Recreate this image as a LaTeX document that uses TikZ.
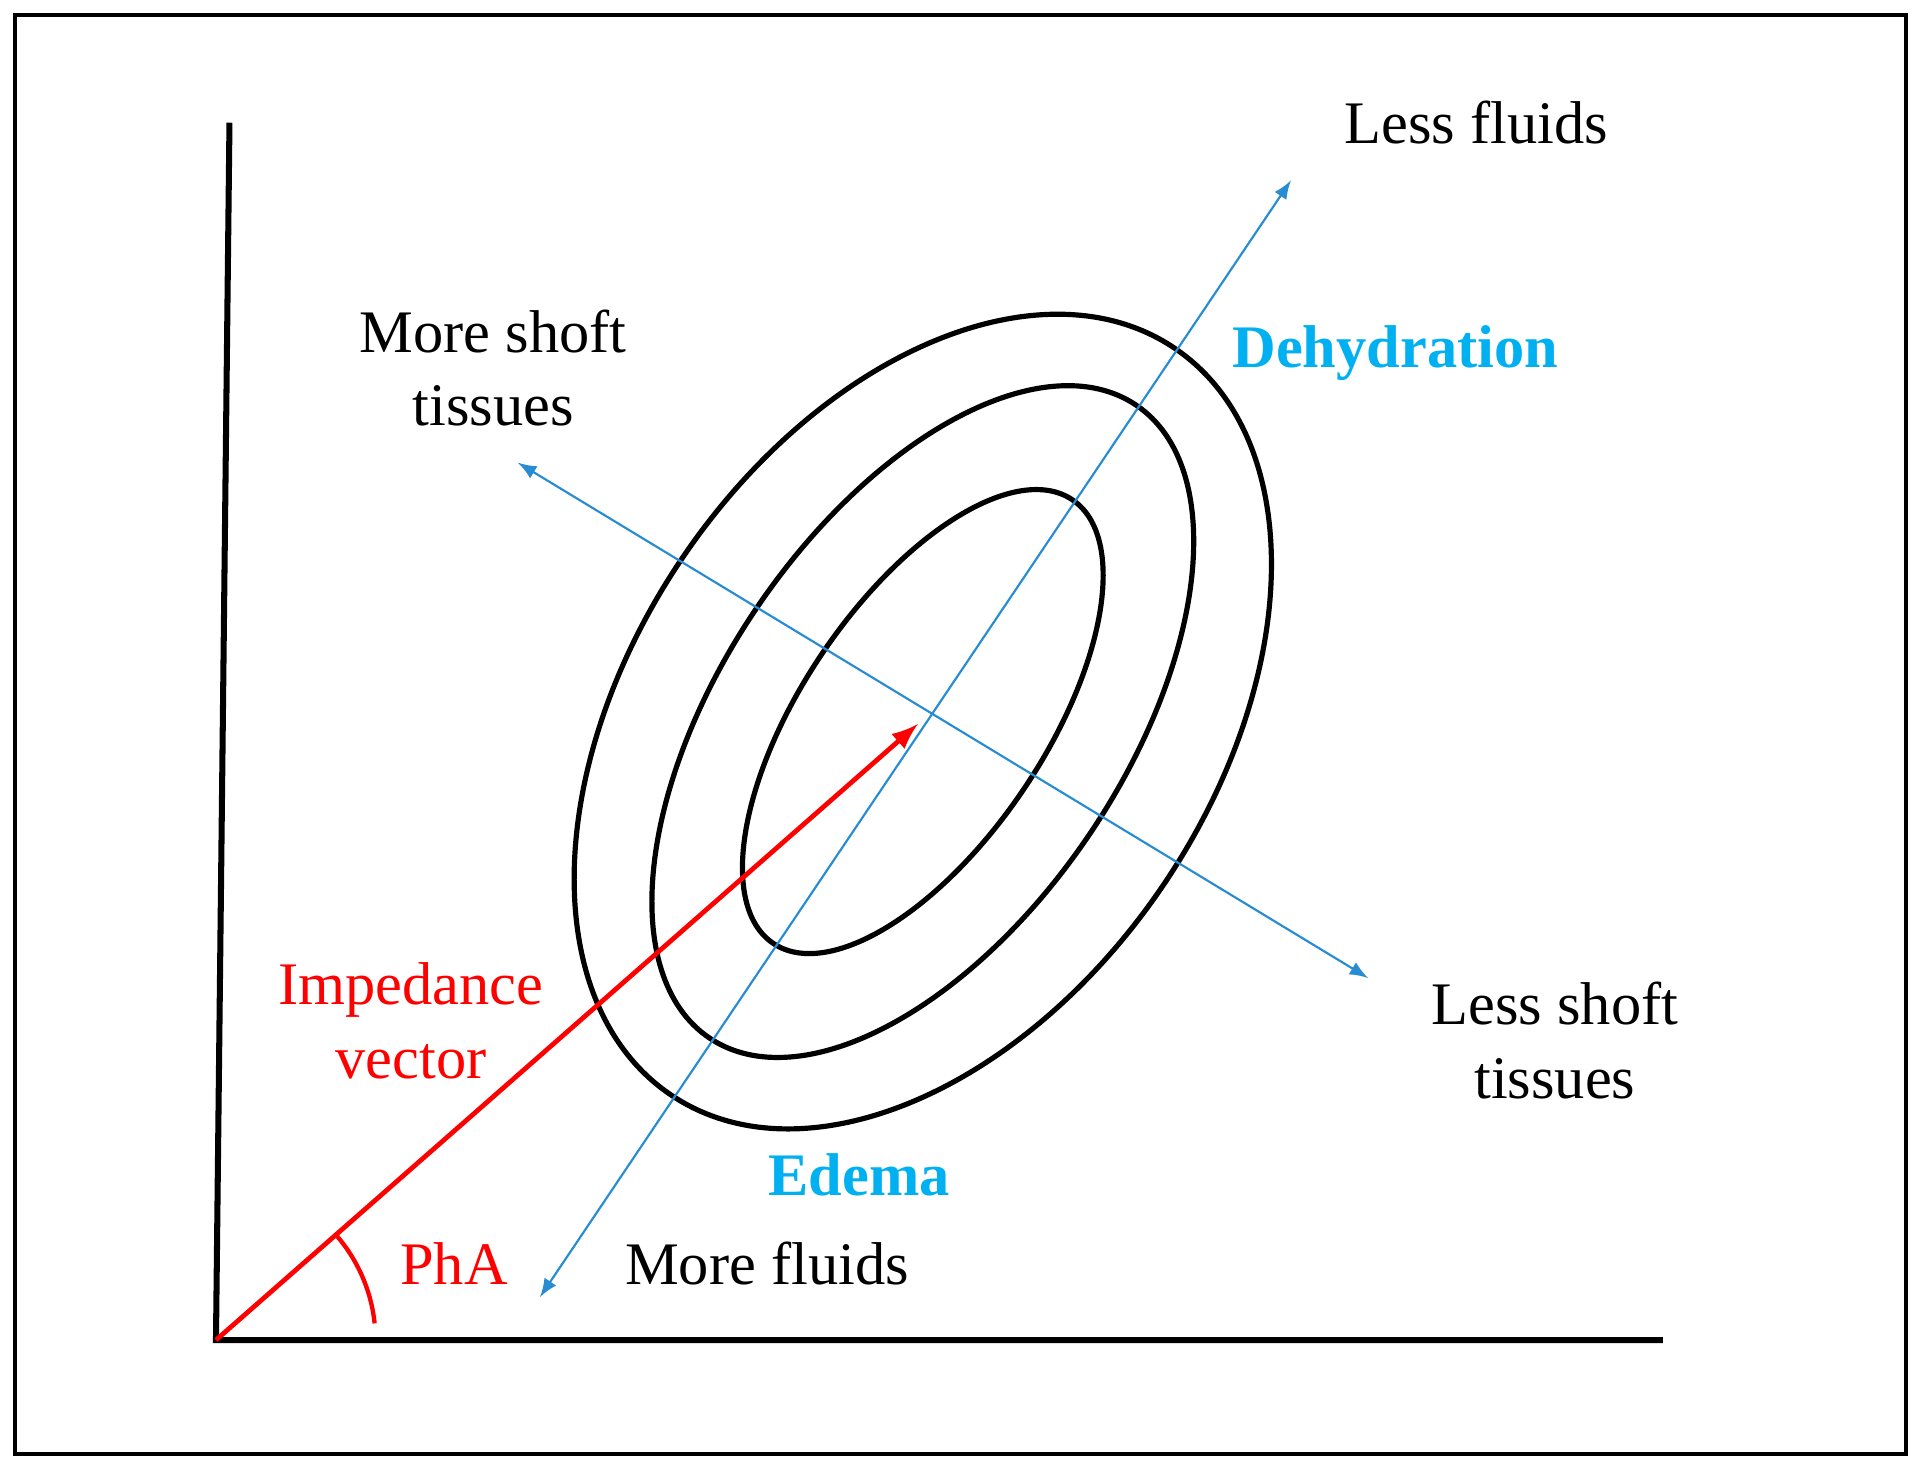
\documentclass[tikz,border=0pt]{standalone}
\usepackage{fontspec}
\setmainfont{Liberation Serif}
\usepackage{xcolor}
\definecolor{lineblue}{RGB}{40,140,210}
\definecolor{labelcyan}{RGB}{0,176,240}
\tikzset{
  lbl/.style={font=\fontsize{14}{17}\selectfont, align=center},
  bluearrow/.style={lineblue, line width=0.5pt, <->, >=latex},
  ring/.style={line width=1.2pt}
}
\begin{document}
\begin{tikzpicture}[x=0.01cm,y=-0.01cm]
\useasboundingbox (0,0) rectangle (1563,1190);

% Draw frame
\draw[line width=0.9pt] (12,12) rectangle (1553,1185);

% Draw axes
\coordinate (O) at (176,1092);
\coordinate (ytop) at (187,100);
\coordinate (xend) at (1355,1092);
\draw[line width=1.4pt] (ytop) -- (O) -- (xend);

% Draw ellipses
\coordinate (C) at (752,588);
\draw[ring, rotate around={56:(C)}] (C) ellipse (218 and 99);
\draw[ring, rotate around={56:(C)}] (C) ellipse (311 and 164);
\draw[ring, rotate around={56:(C)}] (C) ellipse (367 and 237);

% Draw blue axes
\coordinate (fmore) at (440,1057);
\coordinate (fless) at (1052,147);
\coordinate (smore) at (422,377);
\coordinate (sless) at (1115,797);
\draw[bluearrow] (fmore) -- (fless);
\draw[bluearrow] (smore) -- (sless);

% Draw impedance vector
\coordinate (tip) at (748,590);
\draw[red, line width=1.1pt, ->, >=latex] (O) -- (tip);
\draw[red, line width=1pt] ([shift={(-41:130)}]O) arc (-41:-6:130);

% Add labels
\node[lbl] (lessf) at (1203,100) {Less fluids};
\node[lbl] (mores) at (402,300) {More shoft\\tissues};
\node[lbl, labelcyan, font=\fontsize{14}{17}\selectfont\bfseries] (dehyd) at (1137,288) {Dehydration};
\node[lbl, red] (imp) at (335,832) {Impedance\\vector};
\node[lbl, labelcyan, font=\fontsize{14}{17}\selectfont\bfseries] (edema) at (700,957) {Edema};
\node[lbl] (moref) at (625,1030) {More fluids};
\node[lbl, red] (pha) at (370,1030) {PhA};
\node[lbl] (lesss) at (1267,848) {Less shoft\\tissues};
\end{tikzpicture}
\end{document}
